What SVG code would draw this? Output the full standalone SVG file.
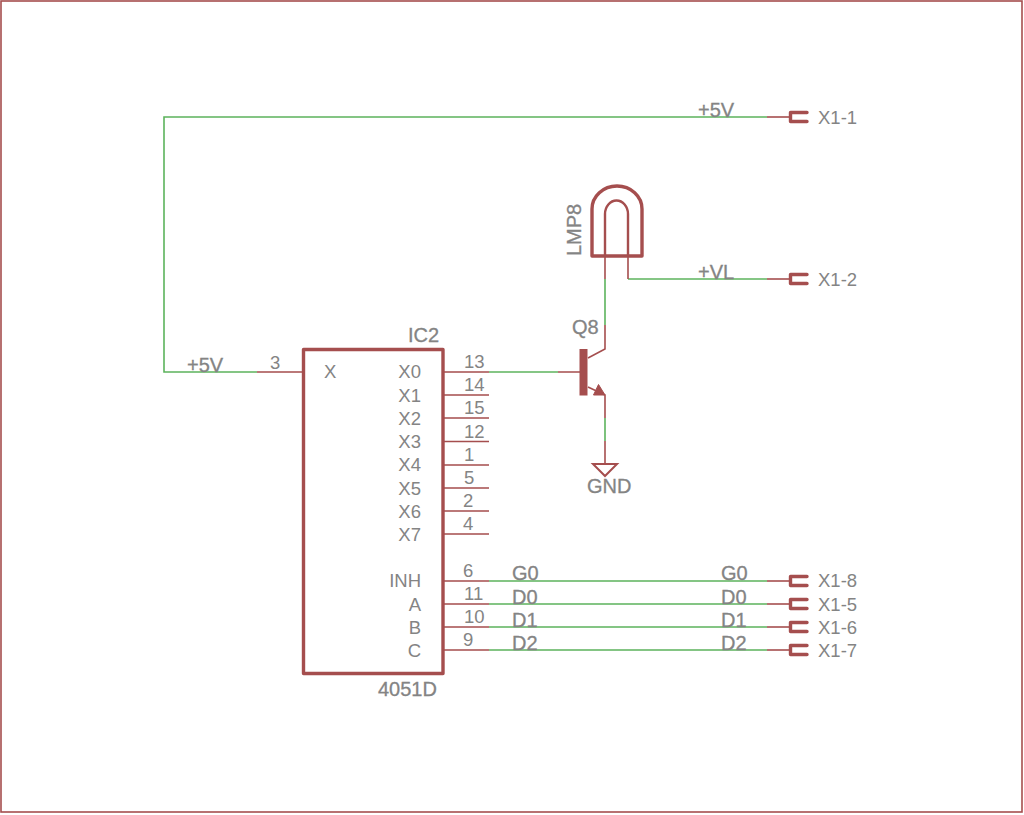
<svg xmlns="http://www.w3.org/2000/svg" width="1024" height="815" viewBox="0 0 1024 815">
<style>
text{font-family:"Liberation Sans",Arial,sans-serif;fill:#848484;font-size:18.5px}
.lg{font-size:20px;stroke:#848484;stroke-width:.3px}
.e{text-anchor:end}
.w{fill:none;stroke:#5cb35c;stroke-width:1.6}
.p{fill:none;stroke:#a54e4e;stroke-width:1.6}
.t{fill:none;stroke:#a54e4e;stroke-width:3.4;stroke-linejoin:round;stroke-linecap:round}
</style>
<defs>
<path id="pad" class="t" d="M807,-4.5H790.500V4.500H807"/>
</defs>
<rect id="frame" x="1" y="1" width="1021" height="811" fill="#fff" stroke="#a54e4e" stroke-width="1.6"/>
<g id="connectors">
<path class="w" d="M767,117H164V372H257"/>
<path class="w" d="M767,279H628"/>
<path class="w" d="M605,279V325"/>
<path class="w" d="M489,372H558"/>
<path class="w" d="M605,418V441"/>
<path class="w" d="M489,581H767M489,604H767M489,627H767M489,650H767"/>
</g>
<g id="IC2">
<rect class="t" x="303.500" y="349.500" width="139.500" height="324" stroke-width="4"/>
<path class="p" d="M257,372H303M443,372H489M443,395H489M443,418H489M443,441.500H489M443,465H489M443,488H489M443,511H489M443,534H489M443,581H489M443,604H489M443,627H489M443,650H489"/>
<text x="408" y="342" class="lg">IC2</text>
<text x="378" y="696" class="lg">4051D</text>
<text x="324" y="378">X</text>
<text x="421" y="378" class="e">X0</text>
<text x="421" y="402" class="e">X1</text>
<text x="421" y="425" class="e">X2</text>
<text x="421" y="448" class="e">X3</text>
<text x="421" y="471" class="e">X4</text>
<text x="421" y="495" class="e">X5</text>
<text x="421" y="518" class="e">X6</text>
<text x="421" y="541" class="e">X7</text>
<text x="421" y="587" class="e">INH</text>
<text x="421" y="611" class="e">A</text>
<text x="421" y="634" class="e">B</text>
<text x="421" y="657" class="e">C</text>
<text x="270" y="369">3</text>
<text x="464" y="368">13</text>
<text x="464" y="391">14</text>
<text x="464" y="414">15</text>
<text x="464" y="438">12</text>
<text x="464" y="461">1</text>
<text x="464" y="484">5</text>
<text x="463" y="507">2</text>
<text x="463" y="530">4</text>
<text x="463" y="577">6</text>
<text x="464" y="600">11</text>
<text x="464" y="623">10</text>
<text x="463" y="646">9</text>
</g>
<g id="LMP8">
<path class="t" d="M592,256V209A25,23 0 0 1 642,209V256Z"/>
<path class="p" stroke-width="2" style="stroke-width:2.400" d="M605,256V214A11.500,13.500 0 0 1 628,214V256"/>
<path class="p" d="M605,256V279M628,256V279"/>
<text transform="translate(581,256) rotate(-90)" class="lg">LMP8</text>
</g>
<g id="Q8">
<rect x="579.500" y="349" width="8" height="46.500" fill="#a54e4e"/>
<path class="p" d="M558,372H580M588,358L605,349V325M588,387L605,395V418"/>
<path d="M605,395H593.500L598.500,384.500Z" fill="#a54e4e" stroke="#a54e4e" stroke-width="1"/>
<text x="572" y="334" class="lg">Q8</text>
</g>
<g id="GND">
<path class="p" d="M605,441V464"/>
<path d="M593,464H617L605,476Z" fill="none" stroke="#a54e4e" stroke-width="2"/>
<text x="587" y="493" class="lg">GND</text>
</g>
<g id="X1-1"><path class="p" d="M767,117H790"/><use href="#pad" y="117"/><text x="818" y="124">X1-1</text></g>
<g id="X1-2"><path class="p" d="M767,279H790"/><use href="#pad" y="279"/><text x="818" y="286">X1-2</text></g>
<g id="X1-8"><path class="p" d="M767,581H790"/><use href="#pad" y="581"/><text x="818" y="587">X1-8</text></g>
<g id="X1-5"><path class="p" d="M767,604H790"/><use href="#pad" y="604"/><text x="818" y="611">X1-5</text></g>
<g id="X1-6"><path class="p" d="M767,627H790"/><use href="#pad" y="627"/><text x="818" y="634">X1-6</text></g>
<g id="X1-7"><path class="p" d="M767,650H790"/><use href="#pad" y="650"/><text x="818" y="657">X1-7</text></g>
<g id="labels">
<text x="698" y="117" class="lg">+5V</text>
<text x="698" y="279" class="lg">+VL</text>
<text x="187" y="372" class="lg">+5V</text>
<text x="512" y="580" class="lg">G0</text>
<text x="512" y="604" class="lg">D0</text>
<text x="512" y="627" class="lg">D1</text>
<text x="512" y="650" class="lg">D2</text>
<text x="721" y="580" class="lg">G0</text>
<text x="721" y="604" class="lg">D0</text>
<text x="721" y="627" class="lg">D1</text>
<text x="721" y="650" class="lg">D2</text>
</g>
</svg>
